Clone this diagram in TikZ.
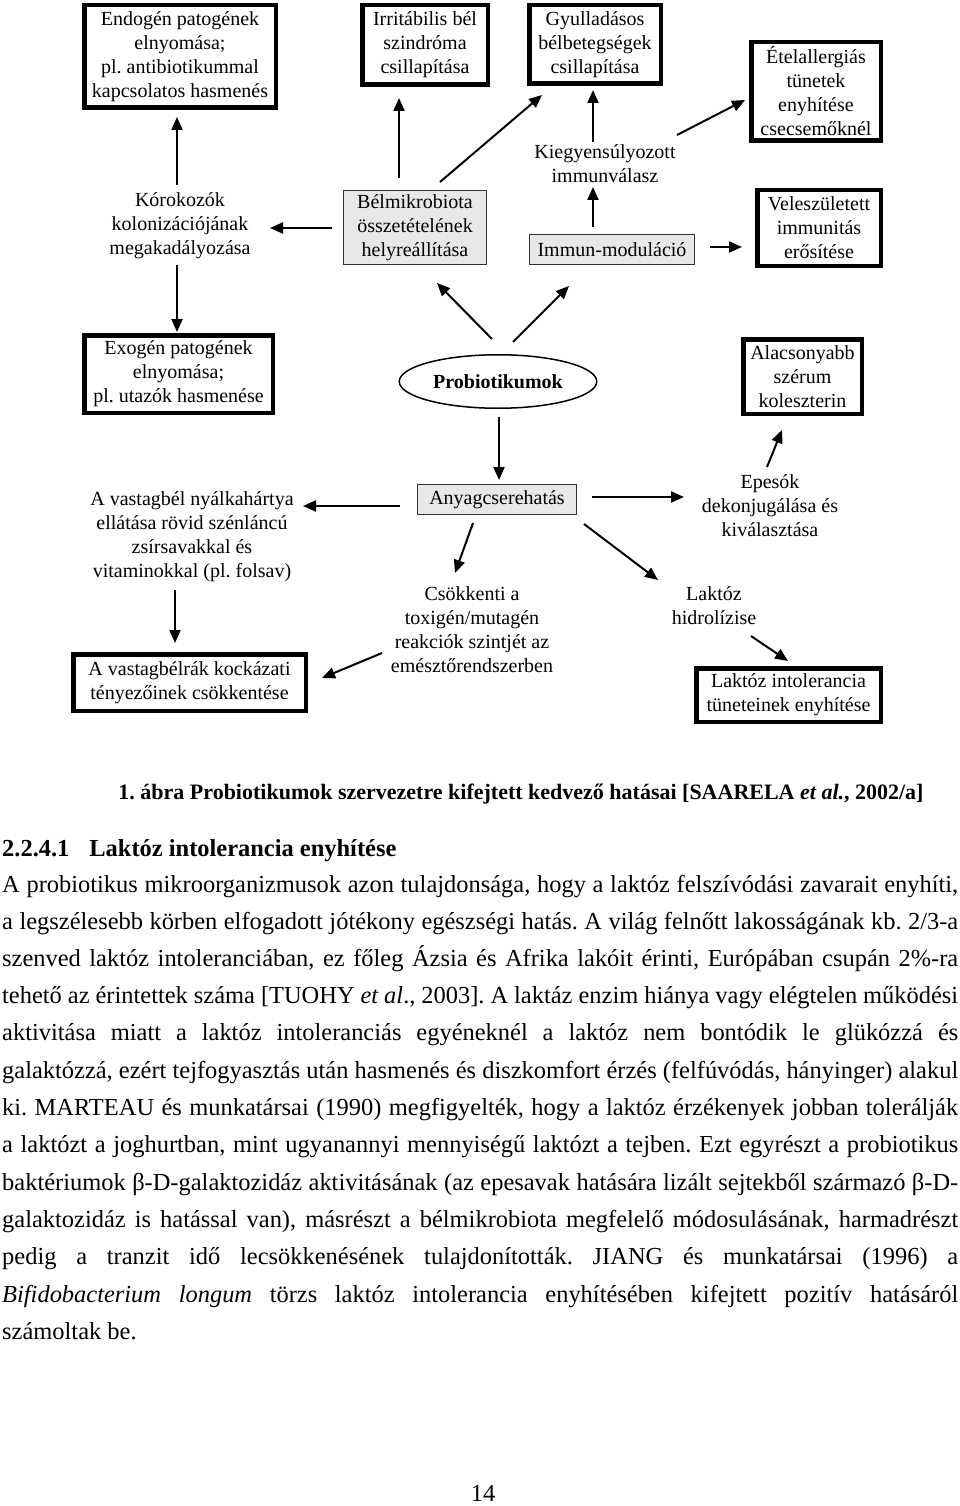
\documentclass[tikz,border=0pt]{standalone}
\usepackage{fontspec}
\setmainfont{Liberation Serif}
\usetikzlibrary{arrows.meta,shapes.geometric}
\frenchspacing
\newcommand\diagfont{\fontsize{20pt}{24pt}\selectfont}
\newcommand\bodyfont{\fontsize{24.45pt}{37pt}\selectfont}
\newcommand\bodyline[1]{\makebox[956pt][s]{#1}}
\definecolor{boxgray}{HTML}{E8E8E8}
\tikzset{
  thickbox/.style={draw, line width=4.5pt, inner sep=0pt, align=center, font=\diagfont},
  graybox/.style={draw=black!80, line width=1.3pt, fill=boxgray, inner sep=0pt, align=center, font=\diagfont},
  plaintext/.style={inner sep=0pt, align=center, font=\diagfont},
  oval/.style={ellipse, draw, line width=1.5pt, inner sep=0pt, font=\diagfont\bfseries},
  arr/.style={line width=2pt, -{Triangle[length=13pt,width=11pt]}},
  bodytext/.style={inner sep=0pt, anchor=base west, font=\bodyfont},
}
\begin{document}
\begin{tikzpicture}[x=1pt,y=-1pt]
\fill[white] (0,0) rectangle (960,1506);
\useasboundingbox (0,0) rectangle (960,1506);
% top row
\node[thickbox, minimum width=191.5pt, minimum height=102.5pt] (endo) at (180,56.5) {Endogén patogének\\elnyomása;\\pl. antibiotikummal\\kapcsolatos hasmenés};
\node[thickbox, minimum width=125.5pt, minimum height=79.5pt] (irr) at (425,45) {Irritábilis bél\\szindróma\\csillapítása};
\node[thickbox, minimum width=131.5pt, minimum height=78.5pt] (gyul) at (595,44.5) {Gyulladásos\\bélbetegségek\\csillapítása};
\node[thickbox, minimum width=129.5pt, minimum height=98.5pt] (etel) at (816,91.5) {Ételallergiás\\tünetek\\enyhítése\\csecsemőknél};
\node[thickbox, minimum width=123.5pt, minimum height=75.5pt] (vele) at (819,228) {Veleszületett\\immunitás\\erősítése};
\node[graybox, minimum width=164.7pt, minimum height=29.7pt] (immun) at (612,249.5) {Immun-moduláció};
\node[plaintext] (kieg) at (605,164) {Kiegyensúlyozott\\immunválasz};
\node[graybox, minimum width=142.7pt, minimum height=73.7pt] (bel) at (415,227.5) {Bélmikrobiota\\összetételének\\helyreállítása};
\node[plaintext] (kor) at (180,226) {Kórokozók\\kolonizációjának\\megakadályozása};
% middle row
\node[thickbox, minimum width=188.5pt, minimum height=77.5pt] (exo) at (178.5,374) {Exogén patogének\\elnyomása;\\pl. utazók hasmenése};
\node[oval, minimum width=197.5pt, minimum height=53.5pt] (prob) at (498,381.5) {Probiotikumok};
\node[thickbox, minimum width=118.5pt, minimum height=74.5pt] (alac) at (802.5,376.5) {Alacsonyabb\\szérum\\koleszterin};
% bottom
\node[graybox, minimum width=158.7pt, minimum height=29.7pt] (anyag) at (497,499.5) {Anyagcserehatás};
\node[plaintext] (vast) at (192,537) {A vastagbél nyálkahártya\\ellátása rövid szénláncú\\zsírsavakkal és\\vitaminokkal (pl. folsav)};
\node[thickbox, minimum width=232.5pt, minimum height=56.5pt] (rak) at (189.5,682.5) {A vastagbélrák kockázati\\tényezőinek csökkentése};
\node[plaintext] (csok) at (472,629.5) {Csökkenti a\\toxigén/mutagén\\reakciók szintjét az\\emésztőrendszerben};
\node[plaintext] (epe) at (770,506) {Epesók\\dekonjugálása és\\kiválasztása};
\node[plaintext] (lhid) at (714,606) {Laktóz\\hidrolízise};
\node[thickbox, minimum width=184.5pt, minimum height=53.5pt] (lint) at (788.5,695) {Laktóz intolerancia\\tüneteinek enyhítése};
% arrows
\draw[arr] ([shift={(-3,-41)}]kor.center) -- ([shift={(-3,60.5)}]endo.center);
\draw[arr] ([shift={(-3,39)}]kor.center) -- ([shift={(-1.5,-42)}]exo.center);
\draw[arr] ([shift={(-83,0.5)}]bel.center) -- ([shift={(90,2)}]kor.center);
\draw[arr] ([shift={(-16,-49.5)}]bel.center) -- ([shift={(-26,53)}]irr.center);
\draw[arr] ([shift={(25,-45.5)}]bel.center) -- ([shift={(-53,50.5)}]gyul.center);
\draw[arr] ([shift={(-12,-22)}]kieg.center) -- ([shift={(-2,45.5)}]gyul.center);
\draw[arr] ([shift={(72,-29)}]kieg.center) -- ([shift={(-71,8.5)}]etel.center);
\draw[arr] ([shift={(-19,-22.5)}]immun.center) -- ([shift={(-12,23)}]kieg.center);
\draw[arr] ([shift={(98,-2.5)}]immun.center) -- ([shift={(-77,19)}]vele.center);
\draw[arr] ([shift={(-6,-42.5)}]prob.center) -- ([shift={(22,55.5)}]bel.center);
\draw[arr] ([shift={(15,-39.5)}]prob.center) -- ([shift={(-43,36.5)}]immun.center);
\draw[arr] ([shift={(1,35.5)}]prob.center) -- ([shift={(2,-19.5)}]anyag.center);
\draw[arr] ([shift={(-97,6.5)}]anyag.center) -- ([shift={(111,-31)}]vast.center);
\draw[arr] ([shift={(-17,53)}]vast.center) -- ([shift={(-14.5,-39.5)}]rak.center);
\draw[arr] ([shift={(-24,23.5)}]anyag.center) -- ([shift={(-17,-56.5)}]csok.center);
\draw[arr] ([shift={(-90,23.5)}]csok.center) -- ([shift={(132.5,-4.5)}]rak.center);
\draw[arr] ([shift={(95,-2.5)}]anyag.center) -- ([shift={(-86,-9)}]epe.center);
\draw[arr] ([shift={(87,24.5)}]anyag.center) -- ([shift={(-56,-26)}]lhid.center);
\draw[arr] ([shift={(37,30)}]lhid.center) -- ([shift={(-0.5,-34)}]lint.center);
\draw[arr] ([shift={(-3,-39)}]epe.center) -- ([shift={(-20.5,53.5)}]alac.center);
% caption and text
\node[inner sep=0pt, anchor=base, font=\fontsize{22pt}{26pt}\selectfont\bfseries] (cap) at (521,799) {1. ábra Probiotikumok szervezetre kifejtett kedvező hatásai [SAARELA \textit{et al.}, 2002/a]};
\node[bodytext, font=\bodyfont\bfseries] (head) at (2,856) {2.2.4.1\hspace{20pt}Laktóz intolerancia enyhítése};
\node[bodytext] (l1) at (2,892) {\bodyline{A probiotikus mikroorganizmusok azon tulajdonsága, hogy a laktóz felszívódási zavarait enyhíti,}};
\node[bodytext] (l2) at (2,929) {\bodyline{a legszélesebb körben elfogadott jótékony egészségi hatás. A világ felnőtt lakosságának kb. 2/3-a}};
\node[bodytext] (l3) at (2,966) {\bodyline{szenved laktóz intoleranciában, ez főleg Ázsia és Afrika lakóit érinti, Európában csupán 2\%-ra}};
\node[bodytext] (l4) at (2,1003) {\bodyline{tehető az érintettek száma [TUOHY \textit{et al}., 2003]. A laktáz enzim hiánya vagy elégtelen működési}};
\node[bodytext] (l5) at (2,1040) {\bodyline{aktivitása miatt a laktóz intoleranciás egyéneknél a laktóz nem bontódik le glükózzá és}};
\node[bodytext] (l6) at (2,1078) {\bodyline{galaktózzá, ezért tejfogyasztás után hasmenés és diszkomfort érzés (felfúvódás, hányinger) alakul}};
\node[bodytext] (l7) at (2,1115) {\bodyline{ki. MARTEAU és munkatársai (1990) megfigyelték, hogy a laktóz érzékenyek jobban tolerálják}};
\node[bodytext] (l8) at (2,1152) {\bodyline{a laktózt a joghurtban, mint ugyanannyi mennyiségű laktózt a tejben. Ezt egyrészt a probiotikus}};
\node[bodytext] (l9) at (2,1190) {\bodyline{baktériumok β-D-galaktozidáz aktivitásának (az epesavak hatására lizált sejtekből származó β-D-}};
\node[bodytext] (l10) at (2,1227) {\bodyline{galaktozidáz is hatással van), másrészt a bélmikrobiota megfelelő módosulásának, harmadrészt}};
\node[bodytext] (l11) at (2,1264) {\bodyline{pedig a tranzit idő lecsökkenésének tulajdonították. JIANG és munkatársai (1996) a}};
\node[bodytext] (l12) at (2,1302) {\bodyline{\textit{Bifidobacterium longum} törzs laktóz intolerancia enyhítésében kifejtett pozitív hatásáról}};
\node[bodytext] (l13) at (2,1339) {számoltak be.};
\node[inner sep=0pt, anchor=base, font=\bodyfont] (pnum) at (483,1501) {14};
\end{tikzpicture}
\end{document}
